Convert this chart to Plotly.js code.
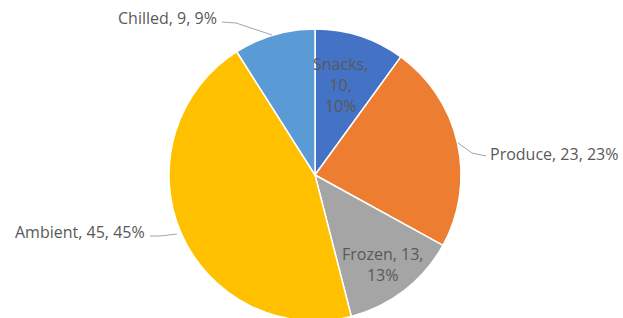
<!DOCTYPE html>
<html>
<head>
<meta charset="utf-8">
<script src="https://cdn.plot.ly/plotly-3.0.1.min.js"></script>
<style>
html,body{margin:0;padding:0;overflow:hidden;background:#fff;}
#chart{width:623px;height:330px;}
</style>
</head>
<body>
<div id="chart"></div>
<script>
const categories = ["Snacks", "Produce", "Frozen", "Ambient", "Chilled"];
const values = [10, 23, 13, 45, 9];
const colors = ["#4472C4", "#ED7D31", "#A5A5A5", "#FFC000", "#5B9BD5"];

const total = values.reduce((a, b) => a + b, 0);
const pct = values.map(v => Math.round(v / total * 100));
const labelText = categories.map((c, i) => c + ", " + values[i] + ", " + pct[i] + "%");

const W = 623, H = 330;
const cx = 315, cy = 175, r = 146;

const trace = {
  type: "pie",
  labels: categories,
  values: values,
  sort: false,
  direction: "clockwise",
  rotation: 0,
  textinfo: "none",
  hoverinfo: "label+value+percent",
  marker: { colors: colors, line: { color: "#ffffff", width: 1.5 } },
  domain: { x: [(cx - r) / W, (cx + r) / W], y: [(H - cy - r) / H, (H - cy + r) / H] },
  showlegend: false
};

const font = { family: "Open Sans, Noto Sans, sans-serif", size: 16, color: "#595959" };

const ann = [
  { text: categories[0] + ",<br>" + values[0] + ",<br>" + pct[0] + "%", x: 340, y: 85, xanchor: "center" },
  { text: labelText[1], x: 488, y: 154, xanchor: "left" },
  { text: categories[2] + ", " + values[2] + ",<br>" + pct[2] + "%", x: 382, y: 264, xanchor: "center" },
  { text: labelText[3], x: 147, y: 232, xanchor: "right" },
  { text: labelText[4], x: 219, y: 18, xanchor: "right" }
];

const annotations = ann.map(a => ({
  xref: "x", yref: "y", x: a.x, y: a.y, text: a.text, showarrow: false,
  xanchor: a.xanchor, yanchor: "middle", align: "center", font: font
}));

const leaderPaths = [
  "M 222 22 L 236 23 L 272 35",
  "M 458 143 L 472 153 L 486 156",
  "M 150 236 L 160 236 L 177 234"
];
const shapes = leaderPaths.map(p => ({
  type: "path", xref: "x", yref: "y", path: p,
  line: { color: "#A6A6A6", width: 1 }
}));

const layout = {
  width: W, height: H,
  margin: { l: 0, r: 0, t: 0, b: 0 },
  paper_bgcolor: "#ffffff", plot_bgcolor: "rgba(0,0,0,0)",
  xaxis: { range: [0, W], visible: false, fixedrange: true },
  yaxis: { range: [H, 0], visible: false, fixedrange: true },
  annotations: annotations,
  shapes: shapes,
  showlegend: false
};

Plotly.newPlot("chart", [trace], layout, { displayModeBar: false, staticPlot: true });
</script>
</body>
</html>
